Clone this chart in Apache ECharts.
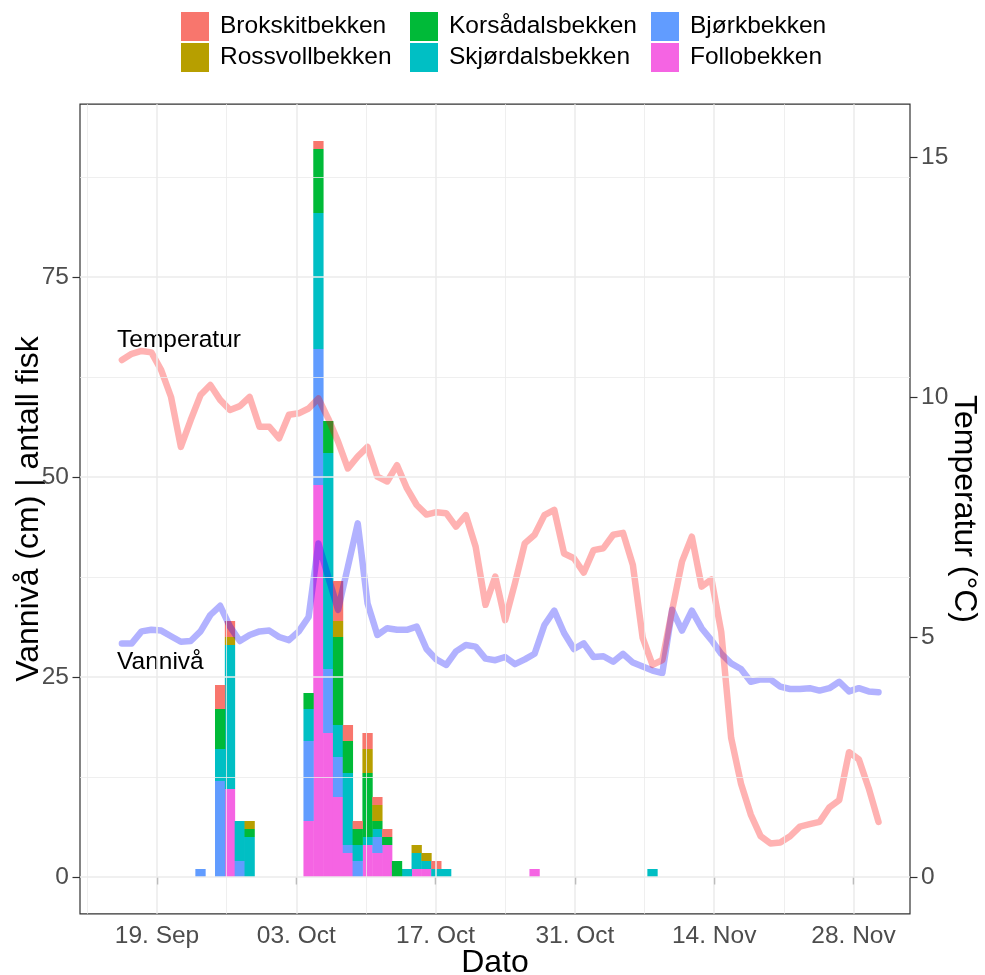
<!DOCTYPE html>
<html><head><meta charset="utf-8">
<script src="https://cdn.jsdelivr.net/npm/echarts@6/dist/echarts.min.js"></script>
<style>html,body{margin:0;padding:0;background:#fff;overflow:hidden}#c{width:985px;height:975px}</style>
</head><body><div id="c"></div>
<script>
// ---------- data ----------
const speciesNames = ['Follobekken','Bjørkbekken','Skjørdalsbekken','Korsådalsbekken','Rossvollbekken','Brokskitbekken'];
const speciesColors = ['#F564E3','#619CFF','#00BFC4','#00BA38','#B79F00','#F8766D'];

const barDates = ['2021-09-23','2021-09-25','2021-09-26','2021-09-27','2021-09-28',
  '2021-10-04','2021-10-05','2021-10-06','2021-10-07','2021-10-08','2021-10-09','2021-10-10',
  '2021-10-11','2021-10-12','2021-10-13','2021-10-14','2021-10-15','2021-10-16','2021-10-17',
  '2021-10-18','2021-10-27','2021-11-08'];
const follo     = [0,0,11,0,0, 7,49,18,10,3,0,4, 3,4,0,0,1,1,0, 0,1,0];
const bjork     = [1,12,0,2,0, 10,17,8,5,1,2,0, 2,0,0,0,0,0,0, 0,0,0];
const skjordal  = [0,4,18,5,5, 4,17,27,4,9,2,1, 1,0,0,1,2,1,1, 1,0,1];
const korsadal  = [0,5,0,0,1, 2,8,4,11,4,2,8, 1,1,2,0,0,0,0, 0,0,0];
const rossvoll  = [0,0,1,0,1, 0,0,0,2,0,0,3, 2,0,0,0,1,1,0, 0,0,0];
const brokskit  = [0,3,2,0,0, 0,1,0,5,2,1,2, 1,1,0,0,0,0,1, 0,0,0];
const speciesData = [follo, bjork, skjordal, korsadal, rossvoll, brokskit];

const lineStart = '2021-09-15';  // first day of the daily series
const temperature = [10.77,10.9,10.96,10.93,10.56,10.0,8.96,9.52,10.04,10.25,
  9.94,9.73,9.81,10.0,9.38,9.38,9.14,9.63,9.66,9.76,
  9.97,9.55,9.07,8.51,8.76,8.96,8.34,8.24,8.58,8.1,
  7.75,7.55,7.6,7.58,7.3,7.54,6.88,5.67,6.26,5.35,
  6.12,6.95,7.13,7.54,7.65,6.74,6.64,6.34,6.81,6.85,
  7.13,7.17,6.5,4.98,4.42,4.52,5.56,6.57,7.09,6.05,
  6.2,5.1,2.9,1.95,1.3,0.85,0.7,0.72,0.85,1.05,
  1.1,1.15,1.45,1.6,2.6,2.45,1.85,1.15];
const waterLevel = [29.2,29.2,30.7,30.9,30.8,30.1,29.4,29.5,30.7,32.75,
  33.9,31.3,29.5,30.25,30.7,30.8,30.0,29.6,30.7,32.5,
  41.7,37.5,33.4,38.8,44.2,34.2,30.25,31.1,30.9,30.9,
  31.3,28.5,27.2,26.5,28.2,29.0,28.8,27.3,27.1,27.5,
  26.6,27.2,27.9,31.5,33.3,30.5,28.5,29.2,27.5,27.6,
  26.9,27.9,26.8,26.3,25.8,25.5,33.4,30.8,33.3,31.1,
  29.6,27.9,26.7,26.0,24.4,24.7,24.7,23.8,23.5,23.5,
  23.6,23.3,23.6,24.4,23.2,23.6,23.2,23.1];

const xTickDates = ['2021-09-19','2021-10-03','2021-10-17','2021-10-31','2021-11-14','2021-11-28'];
const xMinorDates = ['2021-09-12','2021-09-26','2021-10-10','2021-10-24','2021-11-07','2021-11-21'];
const xLimitDays = [-7.74, 75.68];   // axis limits, days relative to the first tick date
const yTicks = [0,25,50,75];
const yMinor = [12.5,37.5,62.5,87.5];
const tempTicks = [0,5,10,15];
const tempScale = 6; // secondary axis: left = temperature * 6
const monthNames = ['Jan','Feb','Mar','Apr','May','Jun','Jul','Aug','Sep','Oct','Nov','Dec'];

// ---------- helpers ----------
const DAY = 86400000;
const ts = s => Date.parse(s + 'T00:00:00Z');
const lineDates = temperature.map((_, i) => ts(lineStart) + i * DAY);
const xMin = ts(xTickDates[0]) + xLimitDays[0] * DAY;
const xMax = ts(xTickDates[0]) + xLimitDays[1] * DAY;
const totals = barDates.map((_, i) => speciesData.reduce((s, a) => s + a[i], 0));
const yTop = Math.max(...totals);
const yMin = -0.05 * yTop, yMax = yTop * 1.05;

const fmtDate = v => { const d = new Date(v); return String(d.getUTCDate()).padStart(2,'0') + '. ' + monthNames[d.getUTCMonth()]; };
const FONT = 'Liberation Sans, Arial, sans-serif';

const series = [];
series.push({
  type: 'line', data: [[xMin, null]], z: 0, silent: true, xAxisIndex: 1, yAxisIndex: 0, symbol: 'none',
  markLine: {
    silent: true, symbol: ['none','none'], label: {show: false}, animation: false,
    data: [
      ...yMinor.map(v => ({yAxis: v, lineStyle: {color: '#EBEBEB', width: 0.8, type: 'solid'}})),
      ...xMinorDates.map(d => ({xAxis: ts(d), lineStyle: {color: '#EBEBEB', width: 0.8, type: 'solid'}})),
      ...yTicks.map(v => ({yAxis: v, lineStyle: {color: '#EBEBEB', width: 1.5, type: 'solid'}})),
      ...xTickDates.map(d => ({xAxis: ts(d), lineStyle: {color: '#EBEBEB', width: 1.5, type: 'solid'}}))
    ]
  }
});
speciesNames.forEach((name, k) => {
  series.push({
    name, type: 'bar', stack: 'fish', barWidth: 10.3, z: 2, xAxisIndex: 0, yAxisIndex: 0,
    itemStyle: {color: speciesColors[k]},
    data: barDates.map((d, i) => [ts(d), speciesData[k][i]])
  });
});
series.push({
  name: 'Vannivå', type: 'line', xAxisIndex: 0, yAxisIndex: 0, z: 3, symbol: 'none',
  lineStyle: {color: 'rgba(0,0,255,0.3)', width: 6.5, cap: 'round', join: 'round'},
  data: lineDates.map((d, i) => [d, waterLevel[i]])
});
series.push({
  name: 'Temperatur', type: 'line', xAxisIndex: 0, yAxisIndex: 1, z: 3, symbol: 'none',
  lineStyle: {color: 'rgba(255,0,0,0.3)', width: 6.5, cap: 'round', join: 'round'},
  data: lineDates.map((d, i) => [d, temperature[i]])
});

const legendCommon = {
  orient: 'vertical', icon: 'rect', itemWidth: 28, itemHeight: 29, itemGap: 2, padding: 0,
  selectedMode: false,
  textStyle: {fontFamily: FONT, fontSize: 24.5, color: '#000', padding: [0,0,0,6]}
};
const tickStyle = {show: true, length: 7.5, lineStyle: {color: '#333', width: 1.2}};
const labelStyle = {fontFamily: FONT, fontSize: 24.5, color: '#4D4D4D', margin: 11};
const titleStyle = {fontFamily: FONT, fontSize: 32, color: '#000'};

const option = {
  animation: false,
  backgroundColor: '#fff',
  grid: {left: 80, right: 75, top: 104.2, bottom: 61.2, show: true, outerBoundsMode: 'none', containLabel: false,
         borderColor: '#333', borderWidth: 1.2, backgroundColor: 'transparent'},
  legend: [
    Object.assign({left: 181, top: 12, data: ['Brokskitbekken','Rossvollbekken']}, legendCommon),
    Object.assign({left: 410, top: 12, data: ['Korsådalsbekken','Skjørdalsbekken']}, legendCommon),
    Object.assign({left: 651, top: 12, data: ['Bjørkbekken','Follobekken']}, legendCommon)
  ],
  xAxis: [{
    type: 'time', min: xMin, max: xMax, position: 'bottom',
    axisLine: {show: false}, axisTick: {show: false}, axisLabel: {show: false}, splitLine: {show: false}
  }, {
    type: 'value', min: xMin, max: xMax, position: 'bottom', offset: 0,
    name: 'Dato', nameLocation: 'middle', nameGap: 33, nameMoveOverlap: false, nameTextStyle: titleStyle,
    axisLine: {show: false},
    axisTick: Object.assign({customValues: xTickDates.map(ts)}, tickStyle),
    axisLabel: Object.assign({customValues: xTickDates.map(ts), formatter: fmtDate, hideOverlap: false}, labelStyle, {margin: 10}),
    splitLine: {show: false}
  }],
  yAxis: [{
    type: 'value', position: 'left', min: yMin, max: yMax,
    name: 'Vannivå (cm) | antall fisk', nameLocation: 'middle', nameGap: 35, nameMoveOverlap: false, nameTextStyle: titleStyle,
    axisLine: {show: false},
    axisTick: Object.assign({customValues: yTicks}, tickStyle),
    axisLabel: Object.assign({customValues: yTicks}, labelStyle),
    splitLine: {show: false}
  }, {
    type: 'value', position: 'right', min: yMin / tempScale, max: yMax / tempScale,
    name: 'Temperatur (°C)', nameLocation: 'middle', nameGap: 38, nameRotate: -90, nameMoveOverlap: false, nameTextStyle: titleStyle,
    axisLine: {show: false},
    axisTick: Object.assign({customValues: tempTicks}, tickStyle),
    axisLabel: Object.assign({customValues: tempTicks}, labelStyle),
    splitLine: {show: false}
  }],
  graphic: [
    {type: 'text', left: 117, top: 328, style: {text: 'Temperatur', font: '24.5px ' + FONT, fill: '#000'}},
    {type: 'text', left: 117, top: 650, style: {text: 'Vannivå', font: '24.5px ' + FONT, fill: '#000'}}
  ],
  series
};
const chart = echarts.init(document.getElementById('c'), null, {renderer: 'canvas'});
chart.setOption(option);
</script></body></html>
